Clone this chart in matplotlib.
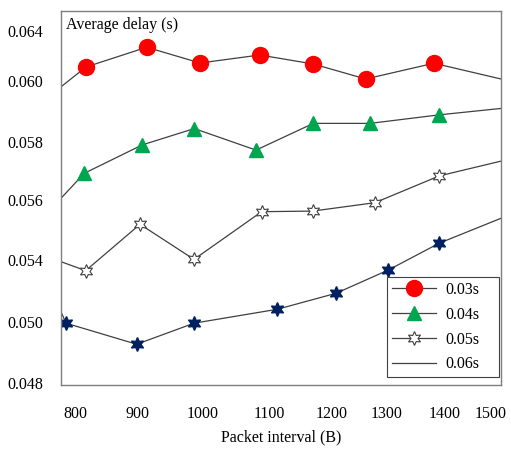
import numpy as np
import matplotlib
matplotlib.use("Agg")
import matplotlib.pyplot as plt
from matplotlib.lines import Line2D

plt.rcParams['font.family'] = ['Liberation Serif', 'DejaVu Serif']

# tick values as printed on the chart (spacing on the chart is not even)
x_ticks = [800, 900, 1000, 1100, 1200, 1300, 1400, 1500]
y_ticks = [0.048, 0.050, 0.054, 0.056, 0.058, 0.060, 0.064]

# first and last entries are where the lines leave the plot frame
x_edge = [778.5, 1522.6]

x_red = [778.5, 817.6, 914.2, 996.5, 1086.0, 1170.6, 1261.8, 1381.0, 1522.6]
y_red = [0.05981, 0.06112, 0.06270, 0.06144, 0.06208, 0.06136, 0.06016, 0.06142, 0.06016]

x_green = [778.5, 814.9, 907.4, 987.7, 1080.3, 1170.6, 1269.6, 1390.2, 1522.6]
y_green = [0.05606, 0.05692, 0.05790, 0.05844, 0.05772, 0.05861, 0.05861, 0.05889, 0.05910]

x_white = [778.5, 817.1, 903.9, 987.2, 1088.8, 1169.6, 1278.7, 1390.2, 1522.6]
y_white = [0.05389, 0.05331, 0.05519, 0.05402, 0.05561, 0.05563, 0.05591, 0.05683, 0.05734]

x_navy = [778.5, 786.2, 898.7, 987.2, 1113.0, 1207.8, 1302.7, 1390.2, 1522.6]
y_navy = [0.05066, 0.04996, 0.04927, 0.04996, 0.05082, 0.05185, 0.05335, 0.05456, 0.05539]

labels = ['0.03s', '0.04s', '0.05s', '0.06s']

# uneven axis: map values to the label positions seen on the chart
xk = [700, 800, 900, 1000, 1100, 1200, 1300, 1400, 1500, 1600]
xp = [10, 75, 137.5, 202.3, 269.2, 331.7, 386.7, 445, 490.8, 536]
yk = [0.044, 0.048, 0.050, 0.054, 0.056, 0.058, 0.060, 0.064, 0.070]
yp = [-120, 2, 63, 125, 185, 243, 304, 354, 429]


def xf(v):
    return np.interp(v, xk, xp)


def xi(p):
    return np.interp(p, xp, xk)


def yf(v):
    return np.interp(v, yk, yp)


def yi(p):
    return np.interp(p, yp, yk)


fs = 11.5
fig = plt.figure(figsize=(5.11, 4.61), dpi=100)
ax = fig.add_axes([0.1194, 0.1649, 0.8610, 0.8119])
ax.set_xscale('function', functions=(xf, xi))
ax.set_yscale('function', functions=(yf, yi))

lc = '#404040'
mk = range(1, 8)
l1, = ax.plot(x_red, y_red, color=lc, lw=0.9, marker='o', ms=11.5,
              mfc='#ff0000', mec='#ff0000', markevery=mk, label=labels[0])
l2, = ax.plot(x_green, y_green, color=lc, lw=0.9, marker='^', ms=10.5,
              mfc='#00a550', mec='#00a550', markevery=mk, label=labels[1])
l3, = ax.plot(x_white, y_white, color=lc, lw=0.9, marker=(6, 1, 0), ms=10,
              mfc='white', mec='#404040', mew=0.8, markevery=mk, label=labels[2])
ax.plot(x_navy, y_navy, color=lc, lw=0.9, marker=(6, 1, 0), ms=10,
        mfc='#002060', mec='#002060', markevery=mk)
l4 = Line2D([], [], color=lc, lw=0.9, label=labels[3])

ax.set_xlim(x_edge)
ax.set_ylim(yi(0), yi(374.3))
ax.set_xticks(x_ticks)
ax.set_xticklabels([str(v) for v in x_ticks])
ax.set_yticks(y_ticks)
ax.set_yticklabels(['%.3f' % v for v in y_ticks])
ax.minorticks_off()
ax.tick_params(length=0, labelsize=fs)
ax.tick_params(axis='y', pad=13)
ax.tick_params(axis='x', pad=15)

for s in ax.spines.values():
    s.set_color('#7f7f7f')
    s.set_linewidth(1)

ax.text(0.011, 0.962, 'Average delay (s)', transform=ax.transAxes,
        fontsize=fs, va='center', ha='left')
ax.set_xlabel('Packet interval (B)', fontsize=fs, labelpad=5.5)

leg = ax.legend(handles=[l1, l2, l3, l4], loc='lower left',
                bbox_to_anchor=(0.741, 0.021, 0.2545, 0.262), mode='expand',
                borderaxespad=0, fontsize=fs, fancybox=False, framealpha=1,
                edgecolor='#404040', handlelength=2.75, handletextpad=0.6,
                borderpad=0.3, labelspacing=0.55)
leg.get_frame().set_linewidth(0.8)

fig.savefig('out.png', dpi=100)
